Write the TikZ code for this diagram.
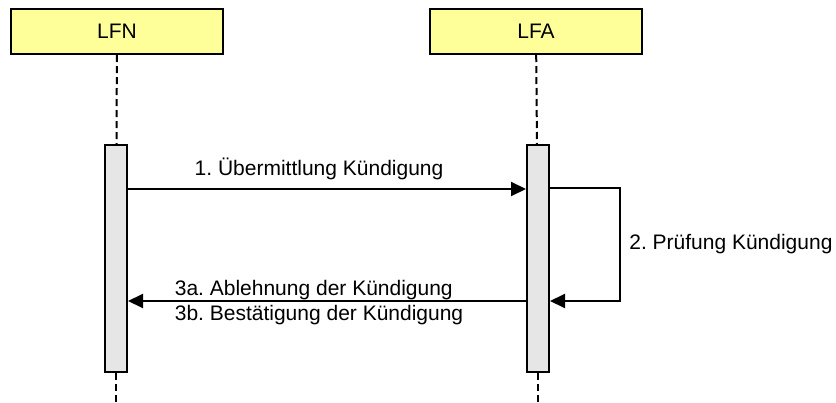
\documentclass[tikz,border=0pt]{standalone}
\usepackage{fontspec}
\setmainfont{Liberation Sans}
\usepackage{tikz}
\usetikzlibrary{arrows.meta}
\usetikzlibrary{positioning}
\frenchspacing
\definecolor{headyellow}{HTML}{FFFF99}
\definecolor{bargray}{HTML}{E6E6E6}
\newlength{\sequnit}
\setlength{\sequnit}{1pt}
\tikzstyle{actorstyle}=[draw, line width=2pt, fill=headyellow, anchor=center, minimum width=212\sequnit, minimum height=45\sequnit, font=\fontsize{21}{25}\selectfont]
\tikzstyle{barstyle}=[draw, line width=2pt, fill=bargray, inner sep=0pt, minimum width=22\sequnit, minimum height=227\sequnit]
\tikzstyle{lifestyle}=[draw, line width=2pt, dash pattern=on 7pt off 4pt]
\tikzstyle{edgestyle}=[draw, line width=2pt, -{Triangle[length=15pt,width=14pt]}]
\tikzstyle{labelstyle}=[font=\fontsize{21}{25}\selectfont, align=left]
\newcommand{\seqactor}[3]{\node [actorstyle] (#1) at (#2,31.5) {#3};}

\begin{document}
\begin{tikzpicture}[x=1pt, y=-1pt]
\useasboundingbox (0,0) rectangle (836,402);
% actors and lifelines
\seqactor{LFN}{117}{LFN}
\seqactor{LFA}{536}{LFA}
\node [barstyle] (LFNbar) at (116,258.5) {};
\node [barstyle] (LFAbar) at (538,258.5) {};
\coordinate (LFNend) at (116,402);
\coordinate (LFAend) at (538,402);
\draw [lifestyle] (LFN) -- (LFNbar);
\draw [lifestyle] (LFA) -- (LFAbar);
\draw [lifestyle] (LFNbar) -- (LFNend);
\draw [lifestyle] (LFAbar) -- (LFAend);
% messages
\draw [edgestyle] ([yshift=-45pt]LFNbar.north east) -- node [labelstyle, above=5pt, pos=0.48] {1. Übermittlung Kündigung} ([yshift=-45pt]LFAbar.north west);
\draw [edgestyle] ([yshift=-44pt]LFAbar.north east) -- ++(70,0) |- node [labelstyle, right=5pt, pos=0.25] {2. Prüfung Kündigung} ([yshift=-157pt]LFAbar.north east);
\draw [edgestyle] ([yshift=-157pt]LFAbar.north west) -- node [labelstyle, pos=0.52, yshift=-2pt] {3a. Ablehnung der Kündigung\\3b. Bestätigung der Kündigung} ([yshift=-157pt]LFNbar.north east);
\end{tikzpicture}
\end{document}
